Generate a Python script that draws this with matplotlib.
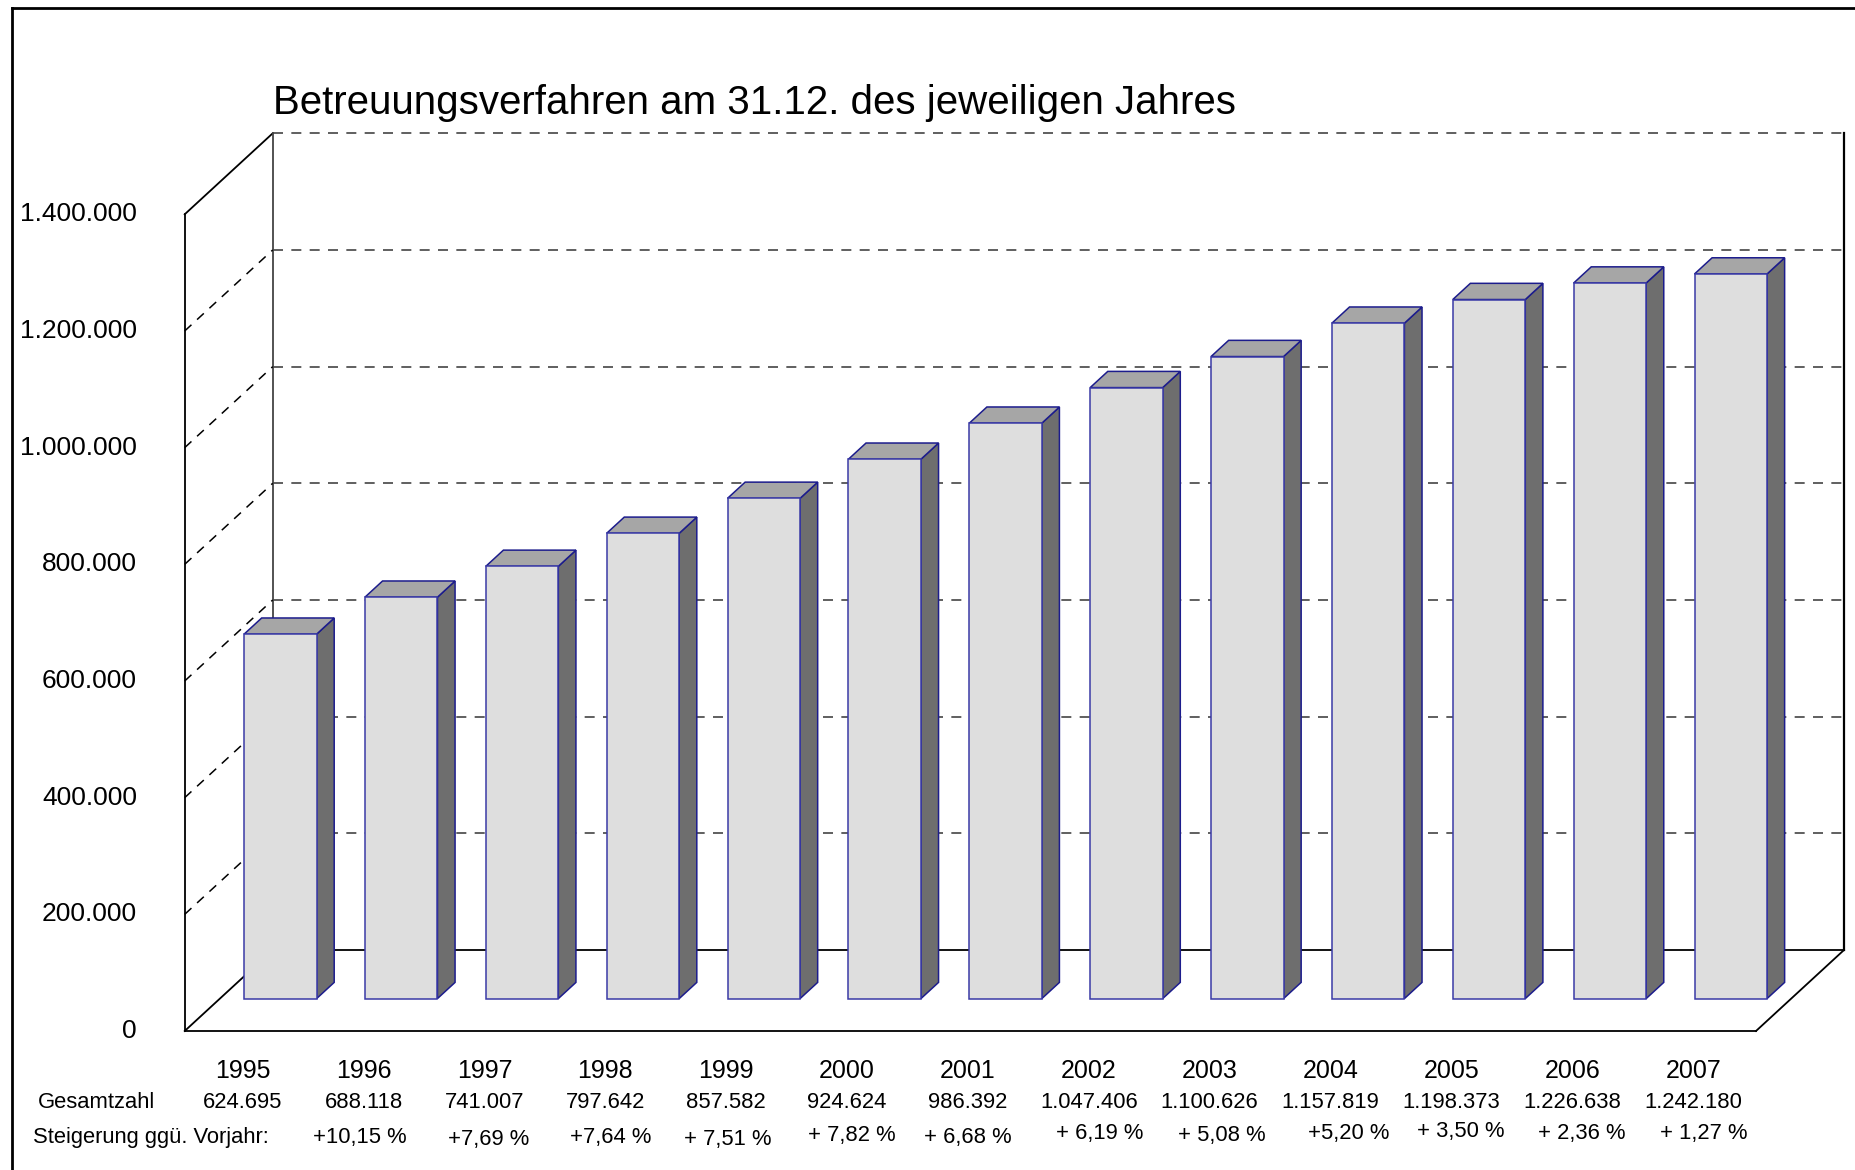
import matplotlib
matplotlib.use("Agg")
import matplotlib.pyplot as plt
from matplotlib.patches import Polygon, Rectangle
from matplotlib.lines import Line2D
from matplotlib.transforms import blended_transform_factory

plt.rcParams['font.family'] = ['Liberation Sans', 'DejaVu Sans']

# data
years = ['1995', '1996', '1997', '1998', '1999', '2000', '2001',
         '2002', '2003', '2004', '2005', '2006', '2007']
totals = [624695, 688118, 741007, 797642, 857582, 924624, 986392,
          1047406, 1100626, 1157819, 1198373, 1226638, 1242180]
growth = ['+10,15 %', '+7,69 %', '+7,64 %', '+ 7,51 %', '+ 7,82 %', '+ 6,68 %',
          '+ 6,19 %', '+ 5,08 %', '+5,20 %', '+ 3,50 %', '+ 2,36 %', '+ 1,27 %']
y_ticks = [0, 200000, 400000, 600000, 800000, 1000000, 1200000, 1400000]
title = 'Betreuungsverfahren am 31.12. des jeweiligen Jahres'

# little nudges of the growth labels as in the original (pixels)
growth_dx = [-4, 4, 5, 2, 5, 0, 11, 12, 18, 9, 9, 11]
growth_dy = [0, -3, 0, -3, 1, -1, 4, 2, 4, 6, 4, 3]

W, H = 1856, 1170
fig = plt.figure(figsize=(W / 100, H / 100), dpi=100)
ax = fig.add_axes([0, 0, 1, 1])
ax.axis('off')

# front plane: 13 slots from px 184.7 to 1756, value 0 at px 1031, 200k = 116.67 px
px_cat = 120.87
px_val = 116.67 / 200000
x0px, y0px = 184.7, 1031
ax.set_xlim(-x0px / px_cat, (W - x0px) / px_cat)
ax.set_ylim(-(H - y0px) / px_val, y0px / px_val)

n = len(years)
DX = 88 / px_cat          # depth offset in category units
DY = 81 / px_val          # depth offset in value units
ymax = y_ticks[-1]

def seg(x, y, **kw):
    ax.add_line(Line2D(x, y, **kw))

# walls / floor
solid = dict(color='black', lw=1.3, zorder=1)
seg([0, 0], [0, ymax], **solid)
seg([0, DX], [0, DY], **solid)
seg([0, DX], [ymax, ymax + DY], **solid)
seg([DX, DX], [DY, ymax + DY], color='#444444', lw=1.3, zorder=1)
seg([n + DX, n + DX], [DY, ymax + DY], color='black', lw=1.6, zorder=1)
seg([0, n], [0, 0], **solid)
seg([n, n + DX], [0, DY], **solid)
seg([DX, n + DX], [DY, DY], **solid)
seg([DX, n + DX], [ymax + DY, ymax + DY], color='#444444', lw=1.2,
    ls=(0, (6, 5)), zorder=1)

for g in y_ticks[1:-1]:
    seg([DX, n + DX], [g + DY, g + DY], color='#444444', lw=1.2,
        ls=(0, (6, 5)), zorder=1)
    seg([0, DX], [g, g + DY], color='black', lw=1.1, ls=(0, (6, 5)), zorder=1)

# bars
bw = 0.6
f0 = 0.4   # depth of front face
bd = 0.2   # depth of bar
edge = '#1c1c8c'
for i, v in enumerate(totals):
    x = i + (1 - bw) / 2 + f0 * DX
    y = f0 * DY
    ddx, ddy = bd * DX, bd * DY
    side = Polygon([(x + bw, y), (x + bw + ddx, y + ddy),
                    (x + bw + ddx, y + v + ddy), (x + bw, y + v)],
                   closed=True, fc='#6e6e6e', ec=edge, lw=1.1, zorder=3)
    top = Polygon([(x, y + v), (x + bw, y + v), (x + bw + ddx, y + v + ddy),
                   (x + ddx, y + v + ddy)],
                  closed=True, fc='#a6a6a6', ec=edge, lw=1.1, zorder=3)
    front = Rectangle((x, y), bw, v, fc='#dedede', ec='#3a3aa6', lw=1.1, zorder=4)
    ax.add_patch(side)
    ax.add_patch(top)
    ax.add_patch(front)

# y tick labels
lab_tr = blended_transform_factory(ax.transAxes, ax.transData)
for t in y_ticks:
    s = f'{t:,}'.replace(',', '.')
    ax.text(137 / W, t, s, transform=lab_tr, ha='right', va='center', fontsize=19)

# table below
row_tr = blended_transform_factory(ax.transData, ax.transAxes)
for i, (yr, v) in enumerate(zip(years, totals)):
    ax.text(i + 0.48, 1 - 1071 / H, yr, transform=row_tr, ha='center',
            va='center', fontsize=18)
    ax.text(i + 0.48, 1 - 1102 / H, f'{v:,}'.replace(',', '.'), transform=row_tr,
            ha='center', va='center', fontsize=15.8)
for i, s in enumerate(growth):
    ax.annotate(s, xy=(i + 1.48, 1 - 1137 / H), xycoords=row_tr,
                xytext=(growth_dx[i], growth_dy[i]), textcoords='offset pixels',
                ha='center', va='center', fontsize=15.8)

fig.text(38 / W, 1 - 1102 / H, 'Gesamtzahl', ha='left', va='center', fontsize=15.8)
fig.text(33 / W, 1 - 1137 / H, 'Steigerung ggü. Vorjahr:', ha='left',
         va='center', fontsize=15.8)

fig.text(273 / W, 1 - 103 / H, title, ha='left', va='center', fontsize=29)

# outer frame (only left and top visible)
fig.add_artist(Line2D([12 / W, 12 / W], [0, 1 - 8 / H], color='black', lw=2,
                      transform=fig.transFigure))
fig.add_artist(Line2D([12 / W, 1], [1 - 8 / H, 1 - 8 / H], color='black', lw=2,
                      transform=fig.transFigure))

fig.savefig('out.png', dpi=100)
